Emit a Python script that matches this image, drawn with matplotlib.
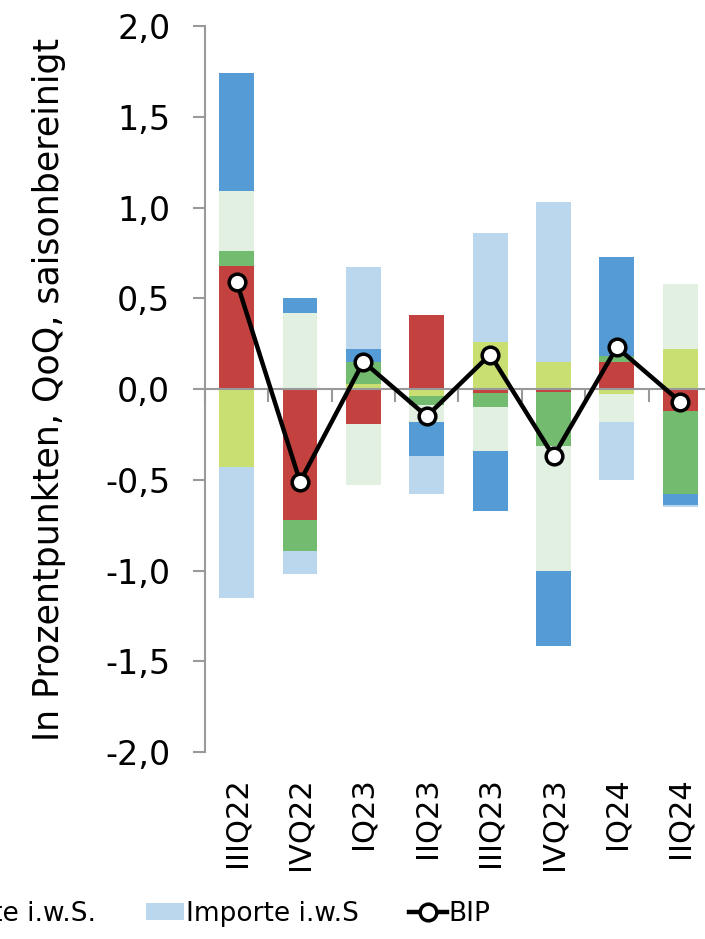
import numpy as np
import matplotlib.pyplot as plt
from matplotlib.ticker import FuncFormatter

# Wachstumsbeiträge zum BIP, Prozentpunkte
quarters = ['IIIQ22', 'IVQ22', 'IQ23', 'IIQ23', 'IIIQ23', 'IVQ23', 'IQ24', 'IIQ24']
konsum = [0.68, -0.72, -0.19, 0.41, -0.02, -0.015, 0.15, -0.12]
staat = [-0.43, 0.0, 0.03, -0.04, 0.26, 0.15, -0.03, 0.22]
invest = [0.08, -0.17, 0.12, -0.05, -0.08, -0.30, 0.03, -0.46]
lager = [0.33, 0.42, -0.34, -0.09, -0.24, -0.69, -0.15, 0.36]
exporte = [0.65, 0.08, 0.07, -0.19, -0.33, -0.41, 0.55, -0.06]
importe = [-0.72, -0.13, 0.45, -0.21, 0.60, 0.88, -0.32, -0.01]
bip = [0.59, -0.51, 0.15, -0.15, 0.19, -0.37, 0.23, -0.07]

names = ['Privater Konsum', 'Staatskonsum', 'Investitionen',
         'Vorratsveränderungen', 'Exporte i.w.S.', 'Importe i.w.S']
series = [konsum, staat, invest, lager, exporte, importe]
colors = ['#C3423F', '#C9DF72', '#72BB6F', '#E2F0E1', '#559CD6', '#BAD7EE']

plt.rcParams['font.family'] = 'DejaVu Sans'

fig = plt.figure(figsize=(7.05, 9.39), dpi=100)
ax = fig.add_axes([0.2908, 0.1991, 0.719, 0.7732])

x = np.arange(len(quarters))
pos_bottom = np.zeros(len(quarters))
neg_bottom = np.zeros(len(quarters))
handles = []
for vals, name, col in zip(series, names, colors):
    v = np.array(vals)
    bottom = np.where(v >= 0, pos_bottom, neg_bottom)
    b = ax.bar(x, v, 0.55, bottom=bottom, color=col, label=name, zorder=2)
    handles.append(b)
    pos_bottom += np.where(v >= 0, v, 0)
    neg_bottom += np.where(v < 0, v, 0)

line, = ax.plot(x, bip, color='black', lw=3.2, marker='o', ms=12, mfc='white',
                mec='black', mew=2.5, label='BIP', zorder=4)
handles.append(line)

ax.set_xlim(-0.5, 7.5)
ax.set_ylim(-2.0, 2.0)
ax.set_yticks(np.arange(-2.0, 2.01, 0.5))
ax.yaxis.set_major_formatter(FuncFormatter(lambda v, p: f'{v:.1f}'.replace('.', ',')))
ax.tick_params(axis='y', direction='out', length=9, width=1.5, color='#999999',
               labelsize=24, pad=16)

# Nulllinie mit Kategoriegrenzen
ax.spines['bottom'].set_position(('data', 0))
ax.spines['bottom'].set_color('#999999')
ax.spines['bottom'].set_linewidth(1.5)
ax.spines['bottom'].set_zorder(3)
ax.spines['left'].set_color('#999999')
ax.spines['left'].set_linewidth(1.5)
ax.spines['top'].set_visible(False)
ax.spines['right'].set_visible(False)
ax.set_xticks(np.arange(-0.5, 8, 1))
ax.set_xticklabels([])
ax.tick_params(axis='x', direction='out', length=9, width=1.5, color='#999999')

sec = ax.secondary_xaxis('bottom')
sec.set_xticks(x, quarters, rotation=90, fontsize=22)
sec.tick_params(length=0, pad=18)
sec.spines['bottom'].set_visible(False)

ax.set_ylabel('In Prozentpunkten, QoQ, saisonbereinigt', fontsize=25, labelpad=28)

fig.legend(handles, names + ['BIP'], loc='center right', bbox_to_anchor=(0.695, 0.027),
           ncol=7, frameon=False, fontsize=19, borderpad=0, borderaxespad=0,
           columnspacing=1.9, handlelength=1.45, handletextpad=0.05,
           handleheight=0.6)

fig.savefig('out.png', dpi=100)
